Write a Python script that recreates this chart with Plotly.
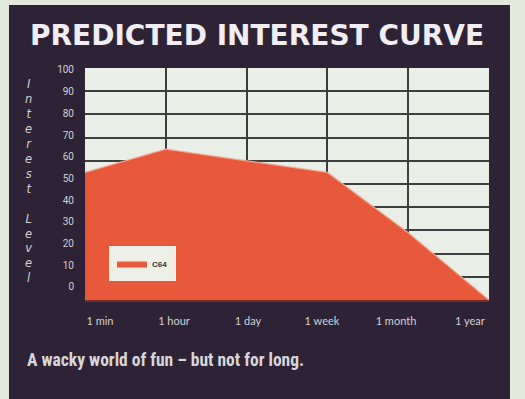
import plotly.graph_objects as go

# Time horizon categories and predicted interest (0-100)
periods = ["1 min", "1 hour", "1 day", "1 week", "1 month", "1 year"]
interest_c64 = [55, 65, 60, 55, 29, 0]
y_ticks = [0, 10, 20, 30, 40, 50, 60, 70, 80, 90, 100]

title_text = "PREDICTED INTEREST CURVE"
caption_text = "A wacky world of fun \u2013 but not for long."
axis_title_words = ["Interest", "Level"]

W, H = 525, 399
L, R, T, B = 85, 36, 68, 99          # plot-area margins in px
PW, PH = W - L - R, H - T - B

PANEL = "#2e2336"
OUTER = "#e3e8dc"
PLOT_BG = "#e9eee7"
FILL = "#e8593b"
EDGE = "#f0a892"
LABEL = "#d2d0d4"
LEGEND_BG = "#eef0e8"


def px_x(px):
    return (px - L) / PW


def px_y(py):
    return (H - B - py) / PH


idx = list(range(len(periods)))

fig = go.Figure()
fig.add_trace(go.Scatter(
    x=idx, y=interest_c64, name="C64",
    mode="lines", fill="tozeroy",
    line=dict(color=EDGE, width=1.2), fillcolor=FILL,
    hoverinfo="skip",
))
# carrier for the label axes (slightly offset scales, like the printed labels)
fig.add_trace(go.Scatter(
    x=idx, y=interest_c64, xaxis="x2", yaxis="y2",
    mode="markers", marker=dict(opacity=0), showlegend=False, hoverinfo="skip",
))

# stacked, upright letters for the vertical axis title
stacked = "<br> <br>".join("<br>".join(list(w)) for w in axis_title_words)

fig.update_layout(
    width=W, height=H,
    margin=dict(l=L, r=R, t=T, b=B),
    paper_bgcolor=OUTER,
    plot_bgcolor=PLOT_BG,
    showlegend=True,
    legend=dict(
        x=px_x(109), y=px_y(246), xanchor="left", yanchor="top",
        bgcolor=LEGEND_BG, bordercolor=LEGEND_BG, borderwidth=3,
        font=dict(family="Liberation Sans, Arial", size=8, color="#333333", weight="bold"),
        itemwidth=30,
    ),
    xaxis=dict(
        range=[0, 5], tickvals=idx, showticklabels=False,
        showgrid=True, gridcolor="#3e3e3e", gridwidth=1.5,
        zeroline=False, showline=True, linecolor="#7b2a24", linewidth=2,
        fixedrange=True,
    ),
    yaxis=dict(
        range=[0, 100], tickvals=y_ticks, showticklabels=False,
        showgrid=True, gridcolor="#3e3e3e", gridwidth=1.5,
        zeroline=False, showline=False, fixedrange=True,
    ),
    xaxis2=dict(
        overlaying="x", anchor="y2", side="bottom",
        range=[-0.2027, 5.257], tickvals=idx, ticktext=periods,
        showgrid=False, zeroline=False, showline=False, ticks="",
        ticklabelstandoff=13,
        tickfont=dict(family="Lato, Open Sans", size=11, color=LABEL),
    ),
    yaxis2=dict(
        overlaying="y", anchor="x2", side="left",
        range=[-6.0, 100.9], tickvals=y_ticks,
        showgrid=False, zeroline=False, showline=False, ticks="",
        ticklabelstandoff=10,
        tickfont=dict(family="Liberation Sans Narrow, Roboto, Arial", size=10, color=LABEL),
    ),
    shapes=[
        dict(type="rect", xref="paper", yref="paper", layer="below",
             x0=px_x(9), x1=px_x(510), y0=px_y(410), y1=px_y(5),
             fillcolor=PANEL, line=dict(width=0)),
        dict(type="rect", xref="paper", yref="paper", layer="below",
             x0=0, x1=1, y0=0, y1=1,
             fillcolor=PLOT_BG, line=dict(width=0)),
    ],
    annotations=[
        dict(text=title_text, xref="paper", yref="paper",
             x=px_x(257), y=px_y(36), xanchor="center", yanchor="middle",
             showarrow=False,
             font=dict(family="DejaVu Sans, Open Sans", size=28, weight="bold", color="#f0eef2")),
        dict(text=f"<b>{caption_text}</b>", xref="paper", yref="paper",
             x=px_x(25), y=px_y(360), xanchor="left", yanchor="middle",
             showarrow=False,
             font=dict(family="Liberation Sans Narrow, Roboto Condensed, Liberation Sans",
                       size=17.5, color="#d8d6da")),
        dict(text=f"<i>{stacked}</i>", xref="paper", yref="paper",
             x=px_x(29), y=px_y(181), xanchor="center", yanchor="middle",
             showarrow=False, align="center",
             font=dict(family="DejaVu Sans, Liberation Sans", size=11.5, color=LABEL)),
    ],
)

fig.write_html("out.html")
